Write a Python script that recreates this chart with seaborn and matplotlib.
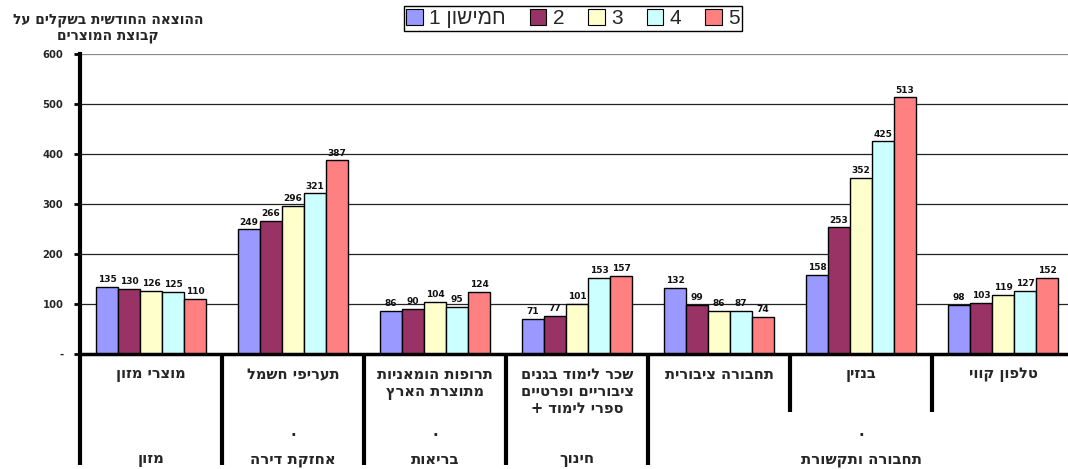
import re
import numpy as np
import pandas as pd
import matplotlib
matplotlib.use("Agg")
import matplotlib.pyplot as plt
import matplotlib.transforms as mtransforms
from matplotlib.patches import Patch
import seaborn as sns

# ---------------- data (logical Hebrew order) ----------------
items = ["מוצרי מזון", "תעריפי חשמל", "תרופות הומאניות\nמתוצרת הארץ",
         "שכר לימוד בגנים\nציבוריים ופרטיים\nספרי לימוד +",
         "תחבורה ציבורית", "בנזין", "טלפון קווי"]
level2 = ["", ".", ".", "", "", ".", ""]
groups = ["מזון", "אחזקת דירה", "בריאות", "חינוך", "תחבורה ותקשורת"]
group_spans = [(0, 0), (1, 1), (2, 2), (3, 3), (4, 6)]
series_names = ["חמישון 1", "2", "3", "4", "5"]
q1 = [135, 249, 86, 71, 132, 158, 98]
q2 = [130, 266, 90, 77, 99, 253, 103]
q3 = [126, 296, 104, 101, 86, 352, 119]
q4 = [125, 321, 95, 153, 87, 425, 127]
q5 = [110, 387, 124, 157, 74, 513, 152]
yticks = [0, 100, 200, 300, 400, 500, 600]
ytick_labels = ["-", "100", "200", "300", "400", "500", "600"]
ytitle = "ההוצאה החודשית בשקלים על\nקבוצת המוצרים"
colors = ["#9999FF", "#993366", "#FFFFCC", "#CCFFFF", "#FF8080"]


def vis(s):
    """Convert logical RTL text to visual order (line by line)."""
    out = []
    for line in s.split("\n"):
        r = line[::-1]
        r = re.sub(r"\d+", lambda m: m.group(0)[::-1], r)
        out.append(r)
    return "\n".join(out)


sns.set_theme(style="white")
plt.rcParams["font.family"] = ["Liberation Sans", "DejaVu Sans"]
HEB = ["DejaVu Sans"]

rows = []
for name, vals in zip(series_names, [q1, q2, q3, q4, q5]):
    for it, v in zip(items, vals):
        rows.append({"item": it, "series": name, "value": v})
df = pd.DataFrame(rows)

W, H = 1068, 469
fig = plt.figure(figsize=(W / 100, H / 100), dpi=100)
ax = fig.add_axes([80 / W, 1 - 354 / H, 994 / W, 300 / H])

sns.barplot(data=df, x="item", y="value", hue="series", order=items,
            hue_order=series_names, palette=colors, edgecolor="black",
            linewidth=1.0, width=0.775, gap=0, ax=ax, legend=False,
            errorbar=None, saturation=1)

for cont in ax.containers:
    ax.bar_label(cont, fmt="%d", padding=2, fontsize=6.5, fontweight="bold",
                 color="#111111", family=HEB)

ax.set_xlim(-0.5, len(items) - 0.5)
ax.set_ylim(0, 600)
ax.set_yticks(yticks)
ax.set_yticklabels(ytick_labels, fontsize=7.2, fontweight="bold", family=HEB)
ax.set_xticks([])
ax.set_xlabel("")
ax.set_ylabel("")
ax.tick_params(axis="y", direction="out", length=4, width=2, pad=8,
               color="black", left=True)
ax.yaxis.grid(True, color="#222222", linewidth=0.9)
gl = ax.yaxis.get_gridlines()
gl[-1].set_color("#888888")
gl[0].set_visible(False)
ax.set_axisbelow(True)
for s in ["top", "right"]:
    ax.spines[s].set_visible(False)
ax.spines["left"].set_linewidth(3)
ax.spines["left"].set_color("black")
ax.spines["bottom"].set_linewidth(2.5)
ax.spines["bottom"].set_color("black")

trans = mtransforms.blended_transform_factory(ax.transData, ax.transAxes)
# separators
long_b = {-0.5, 0.5, 1.5, 2.5, 3.5}
for b in np.arange(-0.5, len(items) - 0.5, 1.0):
    yend = -0.37 if b in long_b else -0.193
    ax.plot([b, b], [0, yend], transform=trans, color="black", lw=3,
            clip_on=False, solid_capstyle="butt")

# level-1 labels
for i, it in enumerate(items):
    ax.text(i, -0.043, vis(it), transform=trans, ha="center", va="top",
            fontsize=10.5, fontweight="bold", linespacing=1.15, family=HEB)
# level-2 dots
for i, d in enumerate(level2):
    if d:
        ax.text(i, -0.273, d, transform=trans, ha="center", va="baseline",
                fontsize=10.5, fontweight="bold", family=HEB)
# level-3 labels
for g, (a, b) in zip(groups, group_spans):
    ax.text((a + b) / 2, -0.352, vis(g), transform=trans, ha="center",
            va="center", fontsize=10.7, fontweight="bold", family=HEB)

# y title
fig.text(108 / W, 1 - 13 / H, vis(ytitle), ha="center", va="top",
         fontsize=9.9, fontweight="bold", multialignment="center",
         linespacing=1.15, family=HEB)

# legend
handles = [Patch(facecolor=c, edgecolor="black", linewidth=0.8) for c in colors]
leg = fig.legend(handles, [vis(n) for n in series_names], loc="center",
                 bbox_to_anchor=(573 / W, 1 - 18.5 / H), ncol=5,
                 fontsize=15, frameon=True, fancybox=False, framealpha=1,
                 edgecolor="black", handlelength=0.8, handleheight=0.8,
                 handletextpad=0.3, columnspacing=1.15, borderpad=0.12,
                 borderaxespad=0)
leg.get_frame().set_linewidth(1.0)

fig.savefig("out.png", dpi=100)
